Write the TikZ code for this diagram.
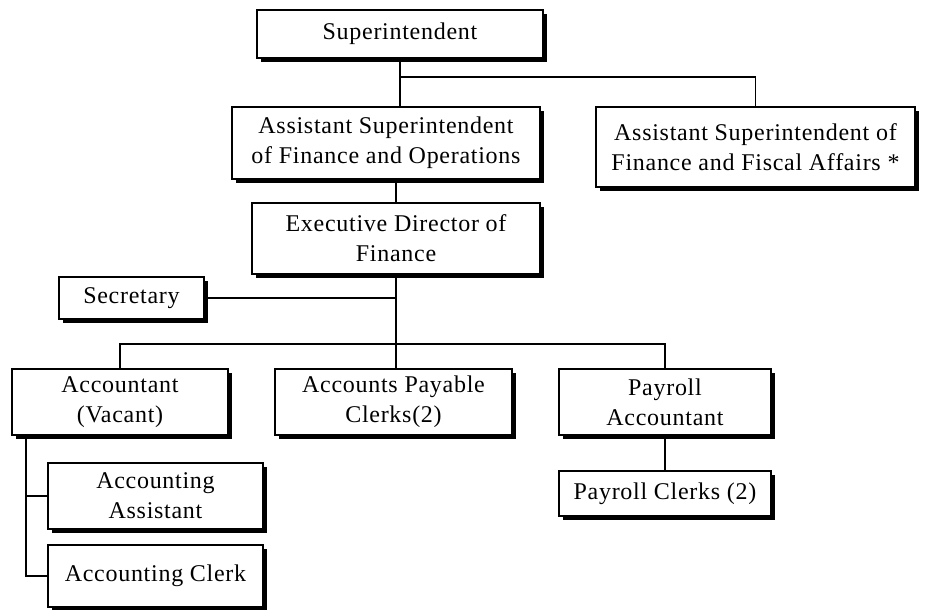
\documentclass[tikz,border=0pt]{standalone}
\usepackage{fontspec}
\setmainfont{Liberation Serif}[LetterSpace=3]
\usepackage{tikz}
\usetikzlibrary{shadows, positioning}

\tikzset{
  orgbox/.style={draw, line width=1pt, fill=white, align=center, inner sep=2pt,
    font=\fontsize{12}{15}\selectfont,
    drop shadow={shadow xshift=2pt, shadow yshift=-2pt, fill=black, opacity=1}},
  orgline/.style={line width=0.8pt}
}

\begin{document}
\begin{tikzpicture}[x=0.5pt, y=-0.5pt]
        \useasboundingbox[fill=white] (0,0) rectangle (928,610);
        % Top levels
        \node[orgbox, minimum width=143pt, minimum height=24pt] (sup) at (400,34) {Superintendent};
        \node[orgbox, minimum width=154pt, minimum height=36pt] (afo) at (386,143)
              {Assistant Superintendent\\of Finance and Operations};
        \node[orgbox, minimum width=159.5pt, minimum height=40pt] (afs) at (755.5,147)
              {Assistant Superintendent of\\Finance and Fiscal Affairs *};
        \node[orgbox, minimum width=144pt, minimum height=35.5pt] (exec) at (396,238.5)
              {Executive Director of\\Finance};
        \node[orgbox, minimum width=72.5pt, minimum height=21pt] (sec) at (131.5,298) {Secretary};
        % Staff row
        \node[orgbox, minimum width=108pt, minimum height=33pt] (acc) at (120,402) {Accountant\\(Vacant)};
        \node[orgbox, minimum width=118.5pt, minimum height=33pt] (ap) at (393.5,402)
              {Accounts Payable\\Clerks(2)};
        \node[orgbox, minimum width=106pt, minimum height=33pt] (pa) at (665,402) {Payroll\\Accountant};
        \node[orgbox, minimum width=106pt, minimum height=22.5pt] (pc) at (665,493.5) {Payroll Clerks (2)};
        \node[orgbox, minimum width=107.5pt, minimum height=33pt] (aas) at (155.5,496)
              {Accounting\\Assistant};
        \node[orgbox, minimum width=107.5pt, minimum height=31pt] (acl) at (155.5,576) {Accounting Clerk};
        % Connectors
        \coordinate (topbus) at (0,77);
        \coordinate (bus) at (0,344);
        \coordinate (trunk) at (26,0);
        \draw[orgline] (sup.south) -- (sup.south |- afo.north);
        \draw[orgline] (sup.south |- topbus) -| (afs.north);
        \draw[orgline] (exec.north |- afo.south) -- (exec.north);
        \draw[orgline] (sec.east) -- (sec.east -| exec.south);
        \draw[orgline] (exec.south) -- (exec.south |- ap.north);
        \draw[orgline] (acc.north) |- (bus -| pa.north) -- (pa.north);
        \draw[orgline] (pa.south) -- (pc.north);
        \draw[orgline] (acc.south -| trunk) |- (acl.west);
        \draw[orgline] (aas.west) -- (aas.west -| trunk);
\end{tikzpicture}
\end{document}
